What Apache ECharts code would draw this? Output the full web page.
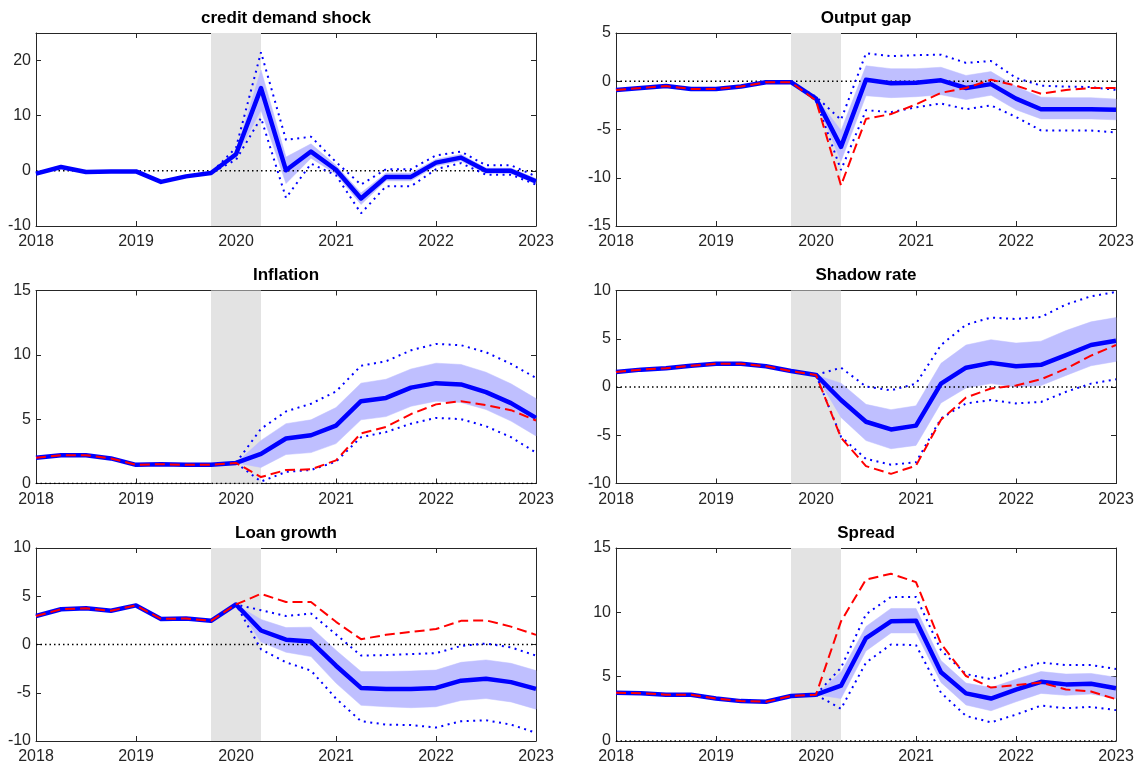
<!DOCTYPE html>
<html>
<head>
<meta charset="utf-8">
<script src="https://cdn.jsdelivr.net/npm/echarts@6/dist/echarts.min.js"></script>
<style>
html, body { margin: 0; padding: 0; background: #fff; }
#chart { width: 1141px; height: 769px; }
</style>
</head>
<body>
<div id="chart"></div>
<script>
// quarterly dates on the x axis
var quarters = [2018, 2018.25, 2018.5, 2018.75, 2019, 2019.25, 2019.5, 2019.75, 2020, 2020.25, 2020.5,
                2020.75, 2021, 2021.25, 2021.5, 2021.75, 2022, 2022.25, 2022.5, 2022.75, 2023];
var shockStart = 2019.75, shockEnd = 2020.25;

// credit demand shock
var cdsMed  = [-0.5, 0.7, -0.2, -0.1, -0.1, -2.0, -1.0, -0.4, 3.0, 15.0, 0.1, 3.5, 0.2, -5.0, -1.1, -1.1, 1.5, 2.4, 0, 0, -1.9];
var cdsLo68 = [-0.5, 0.7, -0.2, -0.1, -0.1, -2.0, -1.0, -0.4, 2.5, 11.0, -2.3, 2.3, -0.6, -6.1, -1.8, -1.8, 0.9, 1.8, -0.5, -0.5, -2.4];
var cdsHi68 = [-0.5, 0.7, -0.2, -0.1, -0.1, -2.0, -1.0, -0.4, 3.5, 18.3, 2.5, 4.9, 1.0, -4.0, -0.4, -0.4, 2.1, 3.0, 0.5, 0.5, -1.4];
var cdsLo90 = [-0.5, 0.7, -0.2, -0.1, -0.1, -2.0, -1.0, -0.4, 2.0, 9.6, -4.9, 1.3, -0.8, -7.7, -2.8, -2.8, 0.3, 1.4, -0.7, -0.7, -2.5];
var cdsHi90 = [-0.5, 0.7, -0.2, -0.1, -0.1, -2.0, -1.0, -0.4, 4.2, 21.5, 5.6, 6.2, 1.6, -2.5, 0.3, 0.3, 2.8, 3.5, 1.0, 1.0, -1.0];

// output gap
var ogMed  = [-0.9, -0.7, -0.5, -0.8, -0.8, -0.55, -0.1, -0.1, -1.8, -6.8, 0.15, -0.2, -0.15, 0.1, -0.7, -0.3, -1.8, -2.9, -2.9, -2.9, -2.95];
var ogLo68 = [-0.9, -0.7, -0.5, -0.8, -0.8, -0.55, -0.1, -0.1, -2.0, -8.3, -1.5, -1.7, -1.6, -1.4, -1.9, -1.45, -2.95, -3.9, -3.9, -3.9, -4.0];
var ogHi68 = [-0.9, -0.7, -0.5, -0.8, -0.8, -0.55, -0.1, -0.1, -1.65, -5.1, 1.6, 1.3, 1.3, 1.45, 0.6, 1.0, -0.55, -1.65, -1.7, -1.7, -1.85];
var ogLo90 = [-0.9, -0.7, -0.5, -0.8, -0.8, -0.55, -0.1, -0.1, -2.0, -9.2, -3.0, -3.2, -2.7, -2.3, -2.9, -2.5, -3.7, -5.1, -5.1, -5.1, -5.3];
var ogHi90 = [-0.9, -0.7, -0.5, -0.8, -0.8, -0.55, -0.1, -0.1, -1.6, -4.0, 2.9, 2.6, 2.7, 2.75, 1.9, 2.1, 0.35, -0.45, -0.55, -0.6, -0.9];
var ogAlt  = [-0.9, -0.7, -0.5, -0.8, -0.8, -0.55, -0.1, -0.1, -2.0, -10.8, -3.9, -3.4, -2.4, -1.2, -0.7, 0.15, -0.45, -1.3, -0.9, -0.7, -0.7];

// inflation
var infMed  = [2.0, 2.2, 2.2, 1.95, 1.45, 1.5, 1.45, 1.45, 1.6, 2.3, 3.5, 3.75, 4.5, 6.4, 6.65, 7.45, 7.8, 7.7, 7.1, 6.25, 5.1];
var infLo68 = [2.0, 2.2, 2.2, 1.95, 1.45, 1.5, 1.45, 1.45, 1.6, 1.25, 2.25, 2.4, 3.1, 4.95, 5.2, 6.0, 6.4, 6.3, 5.75, 4.85, 3.7];
var infHi68 = [2.0, 2.2, 2.2, 1.95, 1.45, 1.5, 1.45, 1.45, 1.6, 3.35, 4.65, 4.95, 5.9, 7.8, 8.1, 8.9, 9.35, 9.25, 8.65, 7.75, 6.6];
var infLo90 = [2.0, 2.2, 2.2, 1.95, 1.45, 1.5, 1.45, 1.45, 1.6, 0.15, 0.9, 1.05, 1.7, 3.6, 4.0, 4.65, 5.1, 5.0, 4.45, 3.6, 2.4];
var infHi90 = [2.0, 2.2, 2.2, 1.95, 1.45, 1.5, 1.45, 1.45, 1.6, 4.25, 5.6, 6.2, 7.15, 9.15, 9.5, 10.35, 10.85, 10.75, 10.2, 9.3, 8.2];
var infAlt  = [2.0, 2.2, 2.2, 1.95, 1.45, 1.5, 1.45, 1.45, 1.6, 0.5, 1.05, 1.1, 1.8, 3.9, 4.4, 5.4, 6.15, 6.4, 6.1, 5.7, 4.9];

// shadow rate
var srMed  = [1.55, 1.8, 1.95, 2.2, 2.4, 2.4, 2.15, 1.65, 1.25, -1.35, -3.6, -4.4, -4.0, 0.35, 2.0, 2.5, 2.15, 2.3, 3.3, 4.35, 4.8];
var srLo68 = [1.55, 1.8, 1.95, 2.2, 2.4, 2.4, 2.15, 1.65, 1.25, -3.15, -5.55, -6.4, -6.05, -1.65, -0.1, 0.35, 0, 0.15, 1.2, 2.2, 2.65];
var srHi68 = [1.55, 1.8, 1.95, 2.2, 2.4, 2.4, 2.15, 1.65, 1.25, 0.4, -1.8, -2.35, -1.95, 2.45, 4.35, 4.9, 4.55, 4.75, 5.85, 6.75, 7.2];
var srLo90 = [1.55, 1.8, 1.95, 2.2, 2.4, 2.4, 2.15, 1.65, 1.25, -5.15, -7.45, -8.05, -7.8, -3.25, -1.7, -1.35, -1.7, -1.55, -0.5, 0.35, 0.8];
var srHi90 = [1.55, 1.8, 1.95, 2.2, 2.4, 2.4, 2.15, 1.65, 1.25, 2.0, 0.05, -0.35, 0.35, 4.35, 6.45, 7.2, 7.05, 7.25, 8.55, 9.4, 9.85];
var srAlt  = [1.55, 1.8, 1.95, 2.2, 2.4, 2.4, 2.15, 1.65, 1.25, -5.25, -8.2, -9.0, -8.15, -3.4, -1.1, -0.15, 0.15, 0.8, 1.9, 3.25, 4.35];

// loan growth
var lgMed  = [2.95, 3.65, 3.75, 3.5, 4.05, 2.65, 2.7, 2.45, 4.15, 1.45, 0.5, 0.3, -2.2, -4.5, -4.6, -4.6, -4.5, -3.75, -3.55, -3.9, -4.6];
var lgLo68 = [2.95, 3.65, 3.75, 3.5, 4.05, 2.65, 2.7, 2.45, 4.15, 0.25, -0.8, -1.25, -4.0, -6.3, -6.45, -6.55, -6.45, -5.8, -5.6, -5.95, -6.7];
var lgHi68 = [2.95, 3.65, 3.75, 3.5, 4.05, 2.65, 2.7, 2.45, 4.15, 2.6, 1.75, 1.8, -0.6, -2.8, -2.8, -2.75, -2.65, -1.85, -1.6, -1.95, -2.7];
var lgLo90 = [2.95, 3.65, 3.75, 3.5, 4.05, 2.65, 2.7, 2.45, 4.15, -0.5, -1.85, -2.7, -5.6, -7.95, -8.3, -8.35, -8.6, -7.95, -7.85, -8.3, -9.15];
var lgHi90 = [2.95, 3.65, 3.75, 3.5, 4.05, 2.65, 2.7, 2.45, 4.15, 3.55, 2.95, 3.2, 1.05, -1.15, -1.1, -1.0, -0.9, -0.15, 0.1, -0.3, -1.15];
var lgAlt  = [2.95, 3.65, 3.75, 3.5, 4.05, 2.65, 2.7, 2.45, 4.15, 5.25, 4.4, 4.4, 2.35, 0.55, 1.0, 1.3, 1.6, 2.45, 2.5, 1.85, 1.0];

// spread
var spMed  = [3.75, 3.72, 3.6, 3.6, 3.3, 3.1, 3.05, 3.5, 3.6, 4.3, 8.0, 9.3, 9.35, 5.35, 3.7, 3.3, 4.0, 4.6, 4.4, 4.45, 4.1];
var spLo68 = [3.75, 3.72, 3.6, 3.6, 3.3, 3.1, 3.05, 3.5, 3.6, 3.3, 7.0, 8.4, 8.4, 4.55, 2.8, 2.35, 3.05, 3.7, 3.55, 3.65, 3.3];
var spHi68 = [3.75, 3.72, 3.6, 3.6, 3.3, 3.1, 3.05, 3.5, 3.6, 5.35, 8.9, 10.3, 10.3, 6.25, 4.5, 4.15, 4.8, 5.4, 5.2, 5.25, 4.95];
var spLo90 = [3.75, 3.72, 3.6, 3.6, 3.3, 3.1, 3.05, 3.5, 3.6, 2.5, 6.1, 7.5, 7.45, 3.75, 1.95, 1.45, 2.05, 2.75, 2.55, 2.65, 2.4];
var spHi90 = [3.75, 3.72, 3.6, 3.6, 3.3, 3.1, 3.05, 3.5, 3.6, 5.7, 9.85, 11.2, 11.2, 7.05, 5.2, 4.8, 5.5, 6.1, 5.9, 5.9, 5.6];
var spAlt  = [3.75, 3.72, 3.6, 3.6, 3.3, 3.1, 3.05, 3.5, 3.6, 9.3, 12.55, 13.0, 12.35, 7.55, 5.05, 4.15, 4.35, 4.55, 4.0, 3.85, 3.25];

var panels = [
    {title: 'credit demand shock', med: cdsMed, lo68: cdsLo68, hi68: cdsHi68, lo90: cdsLo90, hi90: cdsHi90, alt: null,   min: -10, max: 25, step: 10},
    {title: 'Output gap',          med: ogMed,  lo68: ogLo68,  hi68: ogHi68,  lo90: ogLo90,  hi90: ogHi90,  alt: ogAlt,  min: -15, max: 5,  step: 5},
    {title: 'Inflation',           med: infMed, lo68: infLo68, hi68: infHi68, lo90: infLo90, hi90: infHi90, alt: infAlt, min: 0,   max: 15, step: 5},
    {title: 'Shadow rate',         med: srMed,  lo68: srLo68,  hi68: srHi68,  lo90: srLo90,  hi90: srHi90,  alt: srAlt,  min: -10, max: 10, step: 5},
    {title: 'Loan growth',         med: lgMed,  lo68: lgLo68,  hi68: lgHi68,  lo90: lgLo90,  hi90: lgHi90,  alt: lgAlt,  min: -10, max: 10, step: 5},
    {title: 'Spread',              med: spMed,  lo68: spLo68,  hi68: spHi68,  lo90: spLo90,  hi90: spHi90,  alt: spAlt,  min: 0,   max: 15, step: 5}
];

var FONT = '"Liberation Sans", Arial, Helvetica, sans-serif';
var AXIS = '#262626';
var BAND = '#bfbfff';
var colLeft = [36, 616], plotW = 500;
var rowTop = [33, 290.5, 548], plotH = 193;

function pairs(ys) {
    return quarters.map(function (q, i) { return [q, ys[i]]; });
}

// whole band drawn as one polygon (upper edge, then lower edge backwards)
function renderBand(params, api) {
    if (params.dataIndexInside !== 0) return;
    var n = params.dataInsideLength, up = [], dn = [];
    for (var i = 0; i < n; i++) {
        up.push(api.coord([api.value(0, i), api.value(2, i)]));
        dn.push(api.coord([api.value(0, i), api.value(1, i)]));
    }
    return {
        type: 'polygon',
        shape: {points: up.concat(dn.reverse())},
        style: {fill: BAND, stroke: BAND, lineWidth: 0.5}
    };
}

var grids = [], xAxes = [], yAxes = [], series = [], graphics = [];

panels.forEach(function (p, k) {
    var left = colLeft[k % 2], top = rowTop[Math.floor(k / 2)];
    grids.push({left: left, top: top, width: plotW, height: plotH, containLabel: false});

    var tick = {show: true, inside: true, length: 5, lineStyle: {color: AXIS, width: 1}};
    var line = {show: true, onZero: false, lineStyle: {color: AXIS, width: 1}};
    xAxes.push({
        gridIndex: k, type: 'value', position: 'bottom', min: 2018, max: 2023, interval: 1,
        axisLine: line, axisTick: tick, splitLine: {show: false},
        axisLabel: {color: AXIS, fontSize: 16, fontFamily: FONT, margin: 8,
                    formatter: function (v) { return String(v); }}
    });
    xAxes.push({
        gridIndex: k, type: 'value', position: 'top', min: 2018, max: 2023, interval: 1,
        axisLine: line, axisTick: tick, splitLine: {show: false}, axisLabel: {show: false}
    });
    yAxes.push({
        gridIndex: k, type: 'value', position: 'left', min: p.min, max: p.max, interval: p.step,
        axisLine: line, axisTick: tick, splitLine: {show: false},
        axisLabel: {color: AXIS, fontSize: 16, fontFamily: FONT, margin: 5, showMaxLabel: p.max % p.step === 0}
    });
    yAxes.push({
        gridIndex: k, type: 'value', position: 'right', min: p.min, max: p.max, interval: p.step,
        axisLine: line, axisTick: tick, splitLine: {show: false}, axisLabel: {show: false}
    });

    var xi = 2 * k, yi = 2 * k;
    var base = {type: 'line', xAxisIndex: xi, yAxisIndex: yi, symbol: 'none', silent: true, animation: false};

    // shaded shock period + zero line
    series.push(Object.assign({}, base, {
        data: [[2018, 0], [2023, 0]], z: 3,
        lineStyle: {color: '#000', width: 1.5, type: [1.5, 3]},
        markArea: {silent: true, z: 1, itemStyle: {color: '#e3e3e3'}, label: {show: false},
                   data: [[{xAxis: shockStart}, {xAxis: shockEnd}]]}
    }));
    // 68% band
    series.push({
        type: 'custom', xAxisIndex: xi, yAxisIndex: yi, silent: true, animation: false, z: 2,
        renderItem: renderBand,
        encode: {x: 0, y: [1, 2]},
        data: quarters.map(function (q, i) { return [q, p.lo68[i], p.hi68[i]]; })
    });
    // 90% bounds, dotted
    [p.lo90, p.hi90].forEach(function (b) {
        series.push(Object.assign({}, base, {
            data: pairs(b), z: 4,
            lineStyle: {color: '#0000ff', width: 2, type: [2, 4.5]}
        }));
    });
    // median
    series.push(Object.assign({}, base, {
        data: pairs(p.med), z: 5,
        lineStyle: {color: '#0000ff', width: 4.5, join: 'round'}
    }));
    // alternative scenario
    if (p.alt) {
        series.push(Object.assign({}, base, {
            data: pairs(p.alt), z: 6,
            lineStyle: {color: '#ff0000', width: 2, type: [10, 5]}
        }));
    }

    graphics.push({
        type: 'text', x: left + plotW / 2, y: top - 15, silent: true,
        style: {text: p.title, fill: '#000', font: 'bold 17px ' + FONT,
                textAlign: 'center', textVerticalAlign: 'middle', align: 'center', verticalAlign: 'middle'}
    });
});

var chart = echarts.init(document.getElementById('chart'), null, {renderer: 'canvas'});
chart.setOption({
    animation: false,
    backgroundColor: '#fff',
    grid: grids,
    xAxis: xAxes,
    yAxis: yAxes,
    series: series,
    graphic: graphics
});
</script>
</body>
</html>
